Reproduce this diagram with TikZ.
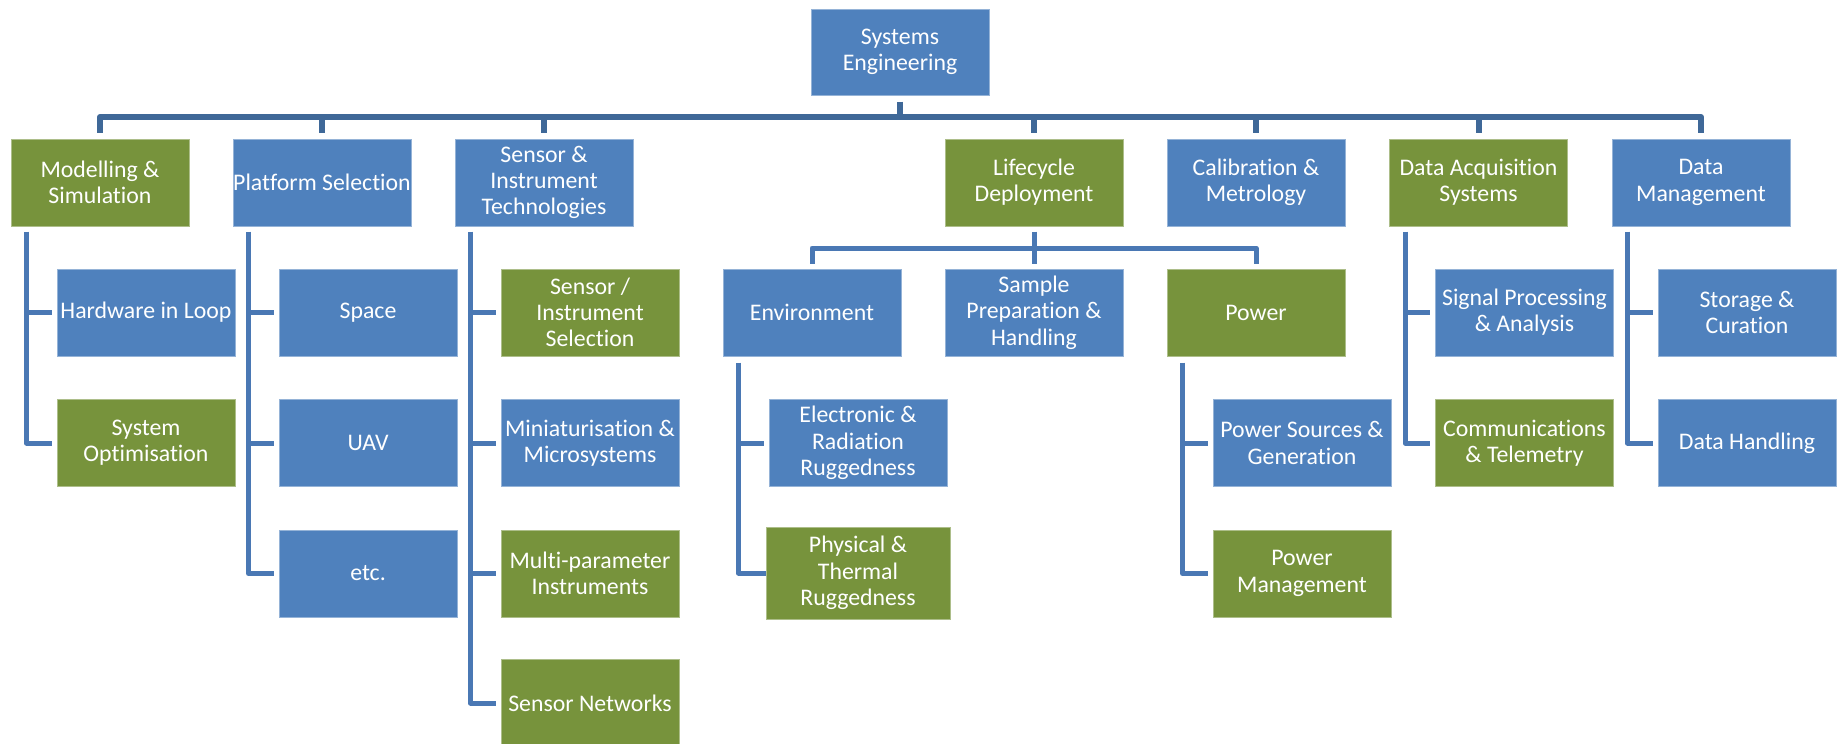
\documentclass[tikz,border=0pt]{standalone}
\usepackage{fontspec}
\setmainfont{Carlito}[Ligatures=NoCommon]
\definecolor{bblue}{HTML}{4F81BD}
\definecolor{bgreen}{HTML}{77933C}
\definecolor{busc}{HTML}{3F6898}
\definecolor{linec}{HTML}{4A78B4}
\begin{document}
\begin{tikzpicture}[x=1pt,y=-1pt,
  base/.style={minimum width=178pt,minimum height=87pt,inner sep=0pt,align=center,text=white,font=\fontsize{23.8}{26.3}\selectfont,line width=1pt},
  bluebox/.style={base,fill=bblue,draw=bblue!60!white},
  greenbox/.style={base,fill=bgreen,draw=bgreen!60!white},
  busline/.style={draw=busc,line width=6pt,line join=round},
  conn/.style={draw=linec,line width=5pt,line join=round}]
\useasboundingbox (0,0) rectangle (1839,744);

% level 0
\node[bluebox,minimum height=86pt] (root) at (900,52) {Systems\\Engineering};
% level 1
\node[greenbox] (mod)  at (100,182.5)  {Modelling \&\\Simulation};
\node[bluebox]  (plat) at (322,182.5)  {Platform Selection};
\node[bluebox]  (sens) at (544,182.5)  {Sensor \&\\Instrument\\Technologies};
\node[greenbox] (life) at (1034,182.5) {Lifecycle\\Deployment};
\node[bluebox]  (cal)  at (1256,182.5) {Calibration \&\\Metrology};
\node[greenbox] (daq)  at (1478.5,182.5) {Data Acquisition\\Systems};
\node[bluebox]  (dm)   at (1701,182.5) {Data\\Management};
% row 2
\node[bluebox]  (hil)   at (146,312.5)  {Hardware in Loop};
\node[bluebox]  (space) at (368,312.5)  {Space};
\node[greenbox] (sis)   at (590,312.5)  {Sensor /\\Instrument\\Selection};
\node[bluebox]  (env)   at (812,312.5)  {Environment};
\node[bluebox]  (samp)  at (1034,312.5) {Sample\\Preparation \&\\Handling};
\node[greenbox] (pow)   at (1256,312.5) {Power};
\node[bluebox]  (sig)   at (1524.5,312.5) {Signal Processing\\\& Analysis};
\node[bluebox]  (stor)  at (1747,312.5) {Storage \&\\Curation};
% row 3
\node[greenbox] (sysopt) at (146,443)  {System\\Optimisation};
\node[bluebox]  (uav)    at (368,443)  {UAV};
\node[bluebox]  (mini)   at (590,443)  {Miniaturisation \&\\Microsystems};
\node[bluebox]  (elec)   at (858,443)  {Electronic \&\\Radiation\\Ruggedness};
\node[bluebox]  (psrc)   at (1302,443) {Power Sources \&\\Generation};
\node[greenbox] (comm)   at (1524.5,443) {Communications\\\& Telemetry};
\node[bluebox]  (dh)     at (1747,443) {Data Handling};
% row 4
\node[bluebox]  (etc)   at (368,573.5)  {etc.};
\node[greenbox] (multi) at (590,573.5)  {Multi-parameter\\Instruments};
\node[greenbox,minimum width=184pt,minimum height=92pt] (phys) at (858,573) {Physical \&\\Thermal\\Ruggedness};
\node[greenbox] (pmgmt) at (1302,573.5) {Power\\Management};
% row 5
\node[greenbox] (snet) at (590,703) {Sensor Networks};

% top bus
\coordinate (bus) at (900,117);
\draw[busline] ([yshift=-6pt]root.south) -- (root.south |- bus);
\draw[busline] ([yshift=6pt]mod.north) |- (bus) -| ([yshift=6pt]dm.north);
\foreach \n in {plat,sens,life,cal,daq}
  \draw[busline] (\n.north |- bus) -- ([yshift=6pt]\n.north);

% modelling
\coordinate (modv) at ([xshift=16pt,yshift=-5pt]mod.south west);
\draw[conn] (modv) |- ([xshift=-5pt]sysopt.west);
\draw[conn] (modv |- hil.west) -- ([xshift=-5pt]hil.west);
% platform
\coordinate (platv) at ([xshift=16pt,yshift=-5pt]plat.south west);
\draw[conn] (platv) |- ([xshift=-5pt]etc.west);
\foreach \n in {space,uav}
  \draw[conn] (platv |- \n.west) -- ([xshift=-5pt]\n.west);
% sensor
\coordinate (sensv) at ([xshift=16pt,yshift=-5pt]sens.south west);
\draw[conn] (sensv) |- ([xshift=-5pt]snet.west);
\foreach \n in {sis,mini,multi}
  \draw[conn] (sensv |- \n.west) -- ([xshift=-5pt]\n.west);
% lifecycle
\coordinate (lbus) at (1034,248);
\draw[conn] ([yshift=-5pt]life.south) -- ([yshift=5pt]samp.north);
\draw[conn] ([yshift=5pt]env.north) |- (lbus) -| ([yshift=5pt]pow.north);
% environment
\coordinate (envv) at ([xshift=16pt,yshift=-6pt]env.south west);
\draw[conn] (envv) |- (phys.west);
\draw[conn] (envv |- elec.west) -- ([xshift=-5pt]elec.west);
% power
\coordinate (powv) at ([xshift=16pt,yshift=-6pt]pow.south west);
\draw[conn] (powv) |- ([xshift=-5pt]pmgmt.west);
\draw[conn] (powv |- psrc.west) -- ([xshift=-5pt]psrc.west);
% data acquisition
\coordinate (daqv) at ([xshift=16pt,yshift=-5pt]daq.south west);
\draw[conn] (daqv) |- ([xshift=-5pt]comm.west);
\draw[conn] (daqv |- sig.west) -- ([xshift=-5pt]sig.west);
% data management
\coordinate (dmv) at ([xshift=16pt,yshift=-5pt]dm.south west);
\draw[conn] (dmv) |- ([xshift=-5pt]dh.west);
\draw[conn] (dmv |- stor.west) -- ([xshift=-5pt]stor.west);
\end{tikzpicture}
\end{document}
